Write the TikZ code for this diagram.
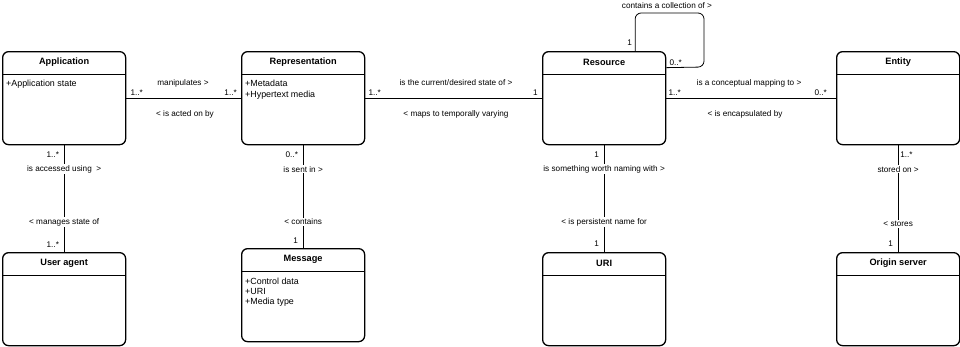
\documentclass[tikz,border=0pt]{standalone}
\usepackage{fontspec}
\setmainfont{Liberation Sans}
\begin{document}
\begin{tikzpicture}[x=1pt,y=-1pt,
  cls/.style={draw=black, line width=1.3pt, rounded corners=6pt, minimum width=123pt, minimum height=93pt, inner sep=0pt, anchor=north west},
  hdr/.style={font=\fontsize{9.2}{10}\selectfont\bfseries, inner sep=0pt},
  attr/.style={font=\fontsize{8.9}{10.4}\selectfont, align=left, inner sep=0pt, anchor=north west},
  sep/.style={line width=0.9pt},
  assoc/.style={draw=black, line width=0.8pt},
  lbl/.style={font=\fontsize{8.2}{9}\selectfont, inner sep=1pt},
  wlbl/.style={font=\fontsize{8.2}{9}\selectfont, inner sep=1pt, fill=white},
  mult/.style={font=\fontsize{8.2}{9}\selectfont, inner sep=0pt}
]
\useasboundingbox (0,0) rectangle (960,346);

% classes
\node[cls] (app) at (2,51) {};
\node[cls] (rep) at (241,51) {};
\node[cls] (res) at (542,51) {};
\node[cls] (ent) at (836,51) {};
\node[cls] (ua)  at (2,252) {};
\node[cls] (msg) at (241,248) {};
\node[cls] (uri) at (542,252) {};
\node[cls] (org) at (836,252) {};

% separators
\foreach \n in {app,rep,res,ent,ua,msg,uri,org}{
  \draw[sep] ([yshift=-23pt]\n.north west) -- ([yshift=-23pt]\n.north east);
}

% headers
\node[hdr] (apph) at ([yshift=-11.5pt]app.north) {Application};
\node[hdr] (reph) at ([yshift=-11.5pt]rep.north) {Representation};
\node[hdr] (resh) at ([yshift=-11.5pt]res.north) {Resource};
\node[hdr] (enth) at ([yshift=-11.5pt]ent.north) {Entity};
\node[hdr] (uah)  at ([yshift=-11.5pt]ua.north) {User agent};
\node[hdr] (msgh) at ([yshift=-11.5pt]msg.north) {Message};
\node[hdr] (urih) at ([yshift=-11.5pt]uri.north) {URI};
\node[hdr] (orgh) at ([yshift=-11.5pt]org.north) {Origin server};

% attributes
\node[attr] (appa) at ([xshift=4pt,yshift=-29pt]app.north west) {+Application state};
\node[attr] (repa) at ([xshift=4pt,yshift=-29pt]rep.north west) {+Metadata\\+Hypertext media};
\node[attr] (msga) at ([xshift=4pt,yshift=-29.5pt]msg.north west) {+Control data\\+URI\\+Media type};

% horizontal associations
\draw[assoc] (app.east) -- (rep.west);
\draw[assoc] (rep.east) -- (res.west);
\draw[assoc] (res.east) -- (ent.west);

\node[lbl] (l1) at (183,83) {manipulates >};
\node[lbl] (l2) at (185,114) {< is acted on by};
\node[mult, anchor=south west] (m1) at ([xshift=4pt,yshift=2pt]app.east) {1..*};
\node[mult, anchor=south east] (m2) at ([xshift=-4pt,yshift=2pt]rep.west) {1..*};

\node[lbl] (l3) at (456,83) {is the current/desired state of >};
\node[lbl] (l4) at (456,114) {< maps to temporally varying};
\node[mult, anchor=south west] (m3) at ([xshift=3pt,yshift=2pt]rep.east) {1..*};
\node[mult, anchor=south east] (m4) at ([xshift=-4pt,yshift=2pt]res.west) {1};

\node[lbl] (l5) at (749,83) {is a conceptual mapping to >};
\node[lbl] (l6) at (745,114) {< is encapsulated by};
\node[mult, anchor=south west] (m5) at ([xshift=2pt,yshift=2pt]res.east) {1..*};
\node[mult, anchor=south east] (m6) at ([xshift=-9pt,yshift=2pt]ent.west) {0..*};

% self loop on Resource
\coordinate (ls) at ([xshift=31pt]res.north);
\coordinate (le) at ([yshift=30.5pt]res.east);
\draw[assoc, rounded corners=6pt] (ls) -- (ls |- 0,13) -- (704,13) -- (704,67) -- (le);
\node[mult, anchor=east] (m7) at ([xshift=-3pt,yshift=8pt]ls) {1};
\node[mult, anchor=south west] (m8) at ([xshift=3pt,yshift=1.5pt]le) {0..*};
\node[lbl] (l7) at (667,5.5) {contains a collection of >};

% vertical associations
\draw[assoc] (app.south) -- (ua.north);
\draw[assoc] (rep.south) -- (msg.north);
\draw[assoc] (res.south) -- (uri.north);
\draw[assoc] (ent.south) -- (org.north);

\node[mult, anchor=east] (v1) at ([xshift=-5pt,yshift=-9pt]app.south) {1..*};
\node[wlbl] (v2) at ([yshift=-24pt]app.south) {is accessed using\ \ >};
\node[wlbl] (v3) at ([yshift=30pt]ua.north) {< manages state of};
\node[mult, anchor=east] (v4) at ([xshift=-5pt,yshift=7pt]ua.north) {1..*};

\node[mult, anchor=east] (v5) at ([xshift=-5pt,yshift=-9pt]rep.south) {0..*};
\node[wlbl] (v6) at ([yshift=-24pt]rep.south) {is sent in >};
\node[wlbl] (v7) at ([yshift=26pt]msg.north) {< contains};
\node[mult, anchor=east] (v8) at ([xshift=-5pt,yshift=7pt]msg.north) {1};

\node[mult, anchor=east] (v9) at ([xshift=-5pt,yshift=-9pt]res.south) {1};
\node[wlbl] (v10) at ([yshift=-24pt]res.south) {is something worth naming with >};
\node[wlbl] (v11) at ([yshift=30pt]uri.north) {< is persistent name for};
\node[mult, anchor=east] (v12) at ([xshift=-5pt,yshift=8pt]uri.north) {1};

\node[mult, anchor=west] (v13) at ([xshift=2pt,yshift=-9pt]ent.south) {1..*};
\node[wlbl] (v14) at ([yshift=-24pt]ent.south) {stored on >};
\node[wlbl] (v15) at ([yshift=28pt]org.north) {< stores};
\node[mult, anchor=east] (v16) at ([xshift=-5pt,yshift=8pt]org.north) {1};
\end{tikzpicture}
\end{document}
